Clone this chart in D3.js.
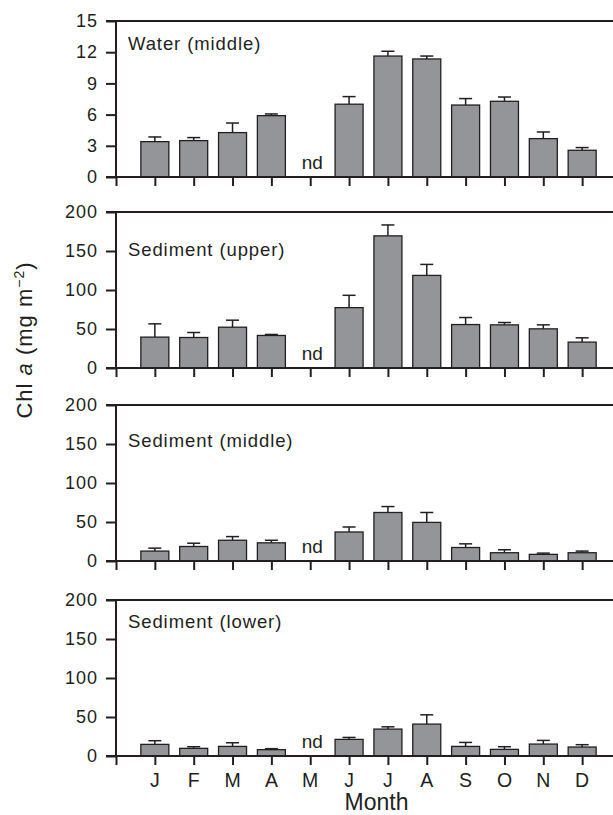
<!DOCTYPE html>
<html>
<head>
<meta charset="utf-8">
<script src="https://cdn.jsdelivr.net/npm/d3@7"></script>
<style>
  body { margin: 0; background: #fff; }
  svg { display: block; font-family: "Liberation Sans", Arial, Helvetica, sans-serif; }
</style>
</head>
<body>
<div id="chart"></div>
<script>
// months (May has no data -> "nd")
var months = ["J", "F", "M", "A", "M", "J", "J", "A", "S", "O", "N", "D"];

var waterMiddle   = [3.40, 3.50, 4.27, 5.90, null, 7.00, 11.63, 11.35, 6.92, 7.28, 3.69, 2.57];
var waterMiddleSE = [0.45, 0.29, 0.92, 0.16, null, 0.73, 0.46, 0.28, 0.62, 0.41, 0.64, 0.26];

var sedUpper   = [39.6, 39.1, 52.3, 41.7, null, 77.4, 169.4, 118.7, 55.7, 55.3, 50.2, 33.2];
var sedUpperSE = [17.0, 6.4, 9.0, 1.3, null, 15.8, 14.0, 14.1, 9.0, 3.0, 5.1, 5.5];

var sedMiddle   = [12.7, 18.6, 26.6, 23.3, null, 37.2, 62.2, 49.5, 17.3, 10.6, 8.5, 10.6];
var sedMiddleSE = [3.8, 4.2, 4.7, 3.3, null, 6.4, 7.6, 12.7, 4.7, 3.8, 1.6, 2.1];

var sedLower   = [14.9, 9.8, 12.3, 8.1, null, 21.3, 34.5, 40.9, 12.3, 8.5, 15.3, 11.5];
var sedLowerSE = [4.7, 2.1, 4.7, 1.3, null, 2.5, 2.9, 11.9, 5.1, 3.4, 4.7, 3.0];

var ticksWater = [0, 3, 6, 9, 12, 15];
var ticksSed = [0, 50, 100, 150, 200];

var panels = [
    { label: "Water (middle)",    values: waterMiddle, se: waterMiddleSE, max: 15,  ticks: ticksWater },
    { label: "Sediment (upper)",  values: sedUpper,    se: sedUpperSE,    max: 200, ticks: ticksSed },
    { label: "Sediment (middle)", values: sedMiddle,   se: sedMiddleSE,   max: 200, ticks: ticksSed },
    { label: "Sediment (lower)",  values: sedLower,    se: sedLowerSE,    max: 200, ticks: ticksSed }
];

// layout
var width = 613, height = 815;
var panelTops = [21, 212, 405, 600];
var labelOffsets = [29, 44, 42, 28];
var panelHeight = 156;
var barWidth = 28;
var ink = "#231f20";

var svg = d3.select("#chart").append("svg")
    .attr("width", width)
    .attr("height", height);

// x positions: 0 is the y axis, months sit at 1..12
var x = d3.scaleLinear().domain([0, 13]).range([116, 621]);

panels.forEach(function(p, k){
    var top = panelTops[k];
    var y = d3.scaleLinear().domain([0, p.max]).range([top + panelHeight, top]);
    var g = svg.append("g").attr("class", "panel");

    // bars
    var rows = p.values.map(function(v, i){ return { i: i + 1, v: v, se: p.se[i] }; })
        .filter(function(d){ return d.v !== null; });

    g.selectAll(".err").data(rows).enter().append("line")
        .attr("x1", function(d){ return x(d.i); })
        .attr("x2", function(d){ return x(d.i); })
        .attr("y1", function(d){ return y(d.v); })
        .attr("y2", function(d){ return y(d.v + d.se); })
        .attr("stroke", ink).attr("stroke-width", 1.5);
    g.selectAll(".cap").data(rows).enter().append("line")
        .attr("x1", function(d){ return x(d.i) - 6.5; })
        .attr("x2", function(d){ return x(d.i) + 6.5; })
        .attr("y1", function(d){ return y(d.v + d.se); })
        .attr("y2", function(d){ return y(d.v + d.se); })
        .attr("stroke", ink).attr("stroke-width", 1.5);

    g.selectAll(".bar").data(rows).enter().append("rect")
        .attr("x", function(d){ return x(d.i) - barWidth / 2; })
        .attr("y", function(d){ return y(d.v); })
        .attr("width", barWidth)
        .attr("height", function(d){ return y(0) - y(d.v); })
        .attr("fill", "#939598")
        .attr("stroke", ink)
        .attr("stroke-width", 1.3);

    // nd label for May
    g.append("text")
        .attr("x", x(5) + 2)
        .attr("y", y(0) - 8)
        .attr("text-anchor", "middle")
        .style("font-size", "19px")
        .attr("fill", ink)
        .text("nd");

    // y axis
    var yAxis = d3.axisLeft(y).tickValues(p.ticks).tickSize(10).tickPadding(9);
    var ya = g.append("g").attr("transform", "translate(" + x(0) + ",0)").call(yAxis);
    ya.select(".domain").remove();
    ya.selectAll("line").attr("stroke", ink).attr("stroke-width", 2);
    ya.selectAll("text").style("font-size", "18px").style("letter-spacing", "1px")
        .attr("dx", "1px").attr("fill", ink);

    // x axis with ticks at 0..12
    var xAxis = d3.axisBottom(x).tickValues(d3.range(0, 13)).tickSize(9).tickFormat("");
    var xa = g.append("g").attr("transform", "translate(0," + y(0) + ")").call(xAxis);
    xa.select(".domain").remove();
    xa.selectAll("line").attr("stroke", ink).attr("stroke-width", 2);

    // frame: left, bottom, top
    g.append("line").attr("x1", x(0)).attr("x2", x(0)).attr("y1", y(p.max)).attr("y2", y(0))
        .attr("stroke", ink).attr("stroke-width", 2);
    g.append("line").attr("x1", x(0) - 10).attr("x2", x(13)).attr("y1", y(0)).attr("y2", y(0))
        .attr("stroke", ink).attr("stroke-width", 2);
    g.append("line").attr("x1", x(0) - 10).attr("x2", x(13)).attr("y1", y(p.max)).attr("y2", y(p.max))
        .attr("stroke", ink).attr("stroke-width", 2);

    g.append("text")
        .attr("x", 128)
        .attr("y", top + labelOffsets[k])
        .style("font-size", "18.5px")
        .style("letter-spacing", "0.9px")
        .attr("fill", ink)
        .text(p.label);

    // month labels under bottom panel
    if (k === panels.length - 1) {
        g.selectAll(".month").data(months).enter().append("text")
            .attr("x", function(d, i){ return x(i + 1); })
            .attr("y", y(0) + 31)
            .attr("text-anchor", "middle")
            .style("font-size", "19.5px")
            .attr("fill", ink)
            .text(function(d){ return d; });
        g.append("text")
            .attr("x", x(6.5) + 8)
            .attr("y", 810)
            .attr("text-anchor", "middle")
            .style("font-size", "23px")
            .attr("fill", ink)
            .text("Month");
    }
});

// y axis title
var yt = svg.append("text")
    .attr("transform", "translate(32,340) rotate(-90)")
    .attr("text-anchor", "middle")
    .style("font-size", "22px")
    .style("letter-spacing", "1px")
    .attr("fill", ink);
yt.append("tspan").text("Chl ");
yt.append("tspan").style("font-style", "italic").text("a");
yt.append("tspan").text(" (mg m");
yt.append("tspan").attr("dy", "-8").style("font-size", "14px").text("\u22122");
yt.append("tspan").attr("dy", "8").text(")");
</script>
</body>
</html>
